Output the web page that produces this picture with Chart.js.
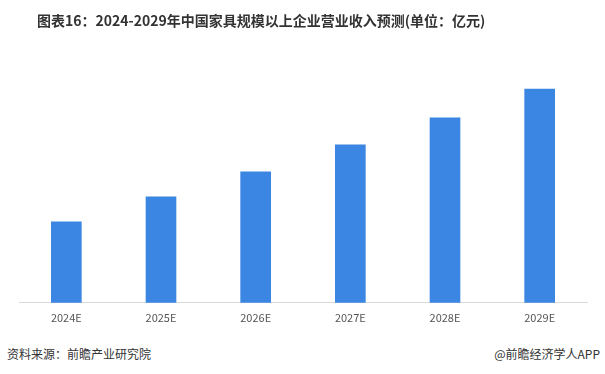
<!DOCTYPE html>
<html>
<head>
<meta charset="utf-8">
<script src="https://cdn.jsdelivr.net/npm/chart.js@4"></script>
<style>
  body { margin: 0; background: #fff; font-family: "Noto Sans CJK SC", sans-serif; }
  #wrap { position: relative; width: 605px; height: 374px; overflow: hidden; }
  #title { position: absolute; top: 10px; left: 37px; white-space: nowrap;
           font-size: 14px; font-weight: bold; color: #333; }
  #src { position: absolute; left: 7px; top: 345px; font-size: 12px; color: #333; }
  #app { position: absolute; right: 5px; top: 345px; font-size: 12px; color: #333; }
  canvas { position: absolute; left: 0; top: 0; }
</style>
</head>
<body>
<div id="wrap">
  <canvas id="mycanvas" width="605" height="338"></canvas>
  <div id="title">图表16：2024-2029年中国家具规模以上企业营业收入预测(单位：亿元)</div>
  <div id="src">资料来源：前瞻产业研究院</div>
  <div id="app">@前瞻经济学人APP</div>
</div>
<script>
var years = ["2024E", "2025E", "2026E", "2027E", "2028E", "2029E"];
var revenue = [8100, 10600, 13100, 15800, 18500, 21400];

var ctx = document.getElementById("mycanvas");

var barGraph = new Chart(ctx, {
	type: 'bar',
	data: {
		labels: years,
		datasets: [{
			label: '营业收入',
			backgroundColor: '#3a86e2',
			borderWidth: 0,
			barThickness: 30,
			data: revenue
		}]
	},
	options: {
		responsive: false,
		animation: false,
		layout: { padding: { left: 19, right: 18, top: 60, bottom: 6 } },
		plugins: {
			legend: { display: false },
			tooltip: { enabled: false }
		},
		scales: {
			x: {
				grid: { display: false, drawTicks: false },
				border: { display: true, color: '#d9d9d9', width: 1 },
				ticks: { color: '#555', padding: 8, font: { size: 11, family: 'Noto Sans CJK SC' } }
			},
			y: {
				display: false,
				min: 0,
				max: 24300
			}
		}
	}
});
</script>
</body>
</html>
